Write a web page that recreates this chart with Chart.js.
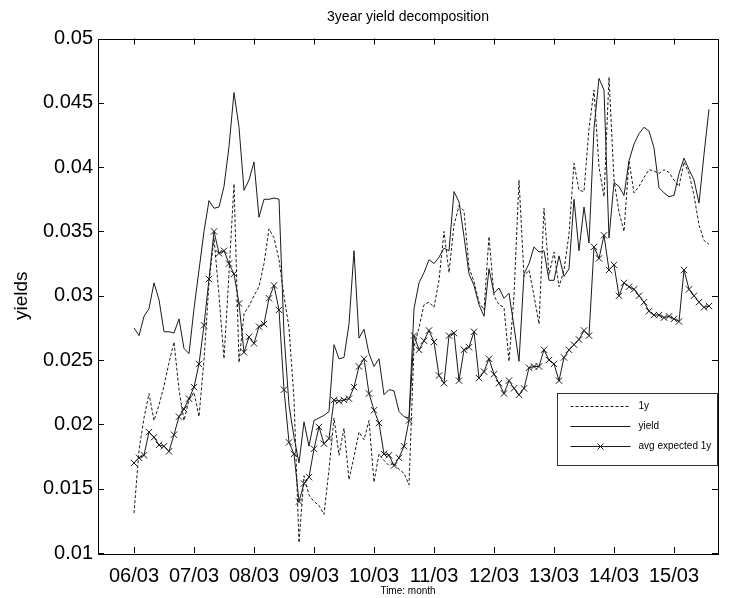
<!DOCTYPE html>
<html>
<head>
<meta charset="utf-8">
<title>3year yield decomposition</title>
<script src="https://cdn.jsdelivr.net/npm/chart.js@4.4.1/dist/chart.umd.min.js"></script>
<style>
  html, body { margin: 0; padding: 0; background: #fff; }
  #wrap { width: 742px; height: 598px; }
</style>
</head>
<body>
<div id="wrap"><canvas id="yieldChart" width="742" height="598"></canvas></div>
<script>
// months since 06/03 (monthly data, 06/03 .. 15/10)
const startYear = 6, startMonth = 3, monthCount = 116;
const months = [];
for (let i = 0; i < monthCount; i++) {
    const m = startMonth - 1 + i;
    const yy = startYear + Math.floor(m / 12);
    const mm = (m % 12) + 1;
    months.push(String(yy).padStart(2, '0') + '/' + String(mm).padStart(2, '0'));
}

// x axis tick labels (every March)
const tickLabels = ['06/03', '07/03', '08/03', '09/03', '10/03', '11/03', '12/03', '13/03', '14/03', '15/03'];

const oneYear = [
    0.0131, 0.0180, 0.0205, 0.0224, 0.0203, 0.0215, 0.0230, 0.0248, 0.0264, 0.0227,
    0.0203, 0.0219, 0.0225, 0.0206, 0.0250, 0.0310, 0.0345, 0.0300, 0.0251, 0.0317,
    0.0387, 0.0248, 0.0286, 0.0292, 0.0300, 0.0307, 0.0325, 0.0352, 0.0345, 0.0328,
    0.0300, 0.0275, 0.0220, 0.0108, 0.0160, 0.0145, 0.0140, 0.0137, 0.0130, 0.0165,
    0.0205, 0.0176, 0.0197, 0.0157, 0.0175, 0.0194, 0.0188, 0.0203, 0.0155, 0.0177,
    0.0172, 0.0168, 0.0170, 0.0165, 0.0162, 0.0153, 0.0260, 0.0275, 0.0293, 0.0295,
    0.0291, 0.0312, 0.0350, 0.0318, 0.0355, 0.0370, 0.0366, 0.0322, 0.0311, 0.0295,
    0.0289, 0.0346, 0.0300, 0.0293, 0.0291, 0.0249, 0.0300, 0.0390, 0.0315, 0.0320,
    0.0300, 0.0278, 0.0368, 0.0316, 0.0334, 0.0307, 0.0320, 0.0348, 0.0403, 0.0382,
    0.0381, 0.0430, 0.0460, 0.0400, 0.0377, 0.0470, 0.0390, 0.0365, 0.0350, 0.0405,
    0.0380, 0.0385, 0.0392, 0.0398, 0.0397, 0.0395, 0.0398, 0.0396, 0.0390, 0.0385,
    0.0404, 0.0395, 0.0378, 0.0355, 0.0343, 0.0340
];

const yieldVals = [
    0.0275, 0.0269, 0.0284, 0.0290, 0.0310, 0.0297, 0.0272, 0.0272, 0.0271, 0.0282,
    0.0259, 0.0255, 0.0290, 0.0320, 0.0350, 0.0374, 0.0368, 0.0369, 0.0385, 0.0416,
    0.0458, 0.0431, 0.0382, 0.0390, 0.0404, 0.0361, 0.0375, 0.0375, 0.0376, 0.0375,
    0.0270, 0.0215, 0.0190, 0.0170, 0.0202, 0.0183, 0.0203, 0.0205, 0.0207, 0.0210,
    0.0262, 0.0251, 0.0252, 0.0278, 0.0335, 0.0267, 0.0274, 0.0255, 0.0245, 0.0251,
    0.0223, 0.0227, 0.0226, 0.0210, 0.0206, 0.0205, 0.0290, 0.0310, 0.0318, 0.0328,
    0.0325, 0.0330, 0.0337, 0.0335, 0.0381, 0.0373, 0.0346, 0.0317, 0.0308, 0.0293,
    0.0284, 0.0321, 0.0302, 0.0306, 0.0298, 0.0302, 0.0276, 0.0249, 0.0317, 0.0325,
    0.0338, 0.0334, 0.0335, 0.0312, 0.0312, 0.0331, 0.0315, 0.0321, 0.0375, 0.0335,
    0.0369, 0.0341, 0.0430, 0.0469, 0.0460, 0.0345, 0.0388, 0.0385, 0.0378, 0.0405,
    0.0418, 0.0426, 0.0431, 0.0428, 0.0415, 0.0384, 0.0380, 0.0377, 0.0378, 0.0395,
    0.0407, 0.0398, 0.0390, 0.0372, 0.0410, 0.0445
];

const avgExpected = [
    0.0170, 0.0174, 0.0176, 0.0194, 0.0190, 0.0184, 0.0183, 0.0179, 0.0192, 0.0206,
    0.0212, 0.0220, 0.0229, 0.0247, 0.0277, 0.0313, 0.0350, 0.0333, 0.0335, 0.0325,
    0.0317, 0.0294, 0.0256, 0.0268, 0.0263, 0.0276, 0.0278, 0.0298, 0.0308, 0.0289,
    0.0227, 0.0186, 0.0177, 0.0140, 0.0154, 0.0159, 0.0181, 0.0198, 0.0185, 0.0189,
    0.0219, 0.0218, 0.0219, 0.0220, 0.0229, 0.0245, 0.0251, 0.0224, 0.0211, 0.0201,
    0.0177, 0.0176, 0.0168, 0.0174, 0.0183, 0.0203, 0.0269, 0.0258, 0.0265, 0.0273,
    0.0264, 0.0238, 0.0232, 0.0269, 0.0271, 0.0234, 0.0258, 0.0260, 0.0272, 0.0236,
    0.0241, 0.0251, 0.0239, 0.0232, 0.0224, 0.0234, 0.0228, 0.0223, 0.0228, 0.0244,
    0.0245, 0.0245, 0.0258, 0.0250, 0.0247, 0.0234, 0.0252, 0.0258, 0.0262, 0.0266,
    0.0273, 0.0269, 0.0338, 0.0329, 0.0347, 0.0320, 0.0324, 0.0300, 0.0310, 0.0307,
    0.0305, 0.0300, 0.0295, 0.0288, 0.0285, 0.0285, 0.0283, 0.0284, 0.0282, 0.0280,
    0.0320, 0.0305, 0.0300, 0.0295, 0.0291, 0.0292
];

const FONT = "'Liberation Sans', Arial, Helvetica, sans-serif";
const LINE = '#1a1a1a';

function toPoints(values) {
    return values.map((v, i) => ({ x: i, y: v, month: months[i] }));
}

// MATLAB-like box with inward tick marks and a legend box in the lower right
const matlabFrame = {
    id: 'matlabFrame',
    afterDatasetsDraw(chart) {
        const { ctx, chartArea: a, scales } = chart;
        const tl = 6;
        ctx.save();
        ctx.strokeStyle = '#000';
        ctx.lineWidth = 1;
        ctx.setLineDash([]);
        ctx.beginPath();
        scales.x.ticks.forEach(t => {
            const px = Math.round(scales.x.getPixelForValue(t.value)) + 0.5;
            ctx.moveTo(px, a.bottom); ctx.lineTo(px, a.bottom - tl);
            ctx.moveTo(px, a.top); ctx.lineTo(px, a.top + tl);
        });
        scales.y.ticks.forEach(t => {
            const py = Math.round(scales.y.getPixelForValue(t.value)) + 0.5;
            ctx.moveTo(a.left, py); ctx.lineTo(a.left + tl, py);
            ctx.moveTo(a.right, py); ctx.lineTo(a.right - tl, py);
        });
        ctx.stroke();
        ctx.strokeRect(Math.round(a.left) + 0.5, Math.round(a.top) + 0.5,
            Math.round(a.right - a.left), Math.round(a.bottom - a.top));

        // legend
        const bx = 557.5, by = 393.5, bw = 160, bh = 72;
        ctx.fillStyle = '#fff';
        ctx.fillRect(bx, by, bw, bh);
        ctx.strokeStyle = '#333';
        ctx.strokeRect(bx, by, bw, bh);
        ctx.font = '10px ' + FONT;
        ctx.textBaseline = 'middle';
        ctx.textAlign = 'left';
        chart.data.datasets.forEach((ds, k) => {
            const ly = by + 13 + k * 20;
            ctx.strokeStyle = LINE;
            ctx.setLineDash(ds.borderDash || []);
            ctx.beginPath();
            ctx.moveTo(bx + 13, ly); ctx.lineTo(bx + 73, ly);
            ctx.stroke();
            ctx.setLineDash([]);
            if (ds.pointRadius > 0) {
                const c = bx + 43, r = 3;
                ctx.beginPath();
                ctx.moveTo(c - r, ly - r); ctx.lineTo(c + r, ly + r);
                ctx.moveTo(c - r, ly + r); ctx.lineTo(c + r, ly - r);
                ctx.stroke();
            }
            ctx.fillStyle = '#000';
            ctx.fillText(ds.label, bx + 81, ly);
        });
        ctx.restore();
    }
};

new Chart(document.getElementById('yieldChart'), {
    type: 'line',
    data: {
        datasets: [
            {
                label: '1y',
                data: toPoints(oneYear),
                borderColor: LINE,
                borderWidth: 1,
                borderDash: [3, 2],
                pointRadius: 0
            },
            {
                label: 'yield',
                data: toPoints(yieldVals),
                borderColor: LINE,
                borderWidth: 1,
                pointRadius: 0
            },
            {
                label: 'avg expected 1y',
                data: toPoints(avgExpected),
                borderColor: LINE,
                borderWidth: 1,
                pointStyle: 'crossRot',
                pointRadius: 4.5,
                pointBorderWidth: 1,
                pointBorderColor: LINE
            }
        ]
    },
    options: {
        responsive: false,
        animation: false,
        devicePixelRatio: 1,
        layout: { padding: { top: 0, right: 24, bottom: 0, left: 0 } },
        elements: { line: { tension: 0 } },
        plugins: {
            legend: { display: false },
            tooltip: { enabled: false },
            title: {
                display: true,
                text: '3year yield decomposition',
                fullSize: false,
                color: '#000',
                font: { family: FONT, size: 14, weight: 'normal' },
                padding: { top: 9, bottom: 12.7 }
            }
        },
        scales: {
            x: {
                type: 'linear',
                min: -7.2,
                max: 116.8,
                grid: { display: false, drawTicks: false },
                border: { display: false },
                afterBuildTicks(scale) {
                    scale.ticks = tickLabels.map((_, k) => ({ value: k * 12 }));
                },
                afterFit(scale) { scale.height = 45; },
                ticks: {
                    color: '#000',
                    padding: 11,
                    maxRotation: 0,
                    autoSkip: false,
                    font: { family: FONT, size: 20 },
                    callback: value => tickLabels[value / 12] || ''
                },
                title: {
                    display: true,
                    text: 'Time: month',
                    color: '#000',
                    font: { family: FONT, size: 10 },
                    padding: { top: 0, bottom: 1 }
                }
            },
            y: {
                min: 0.01,
                max: 0.05,
                grid: { display: false, drawTicks: false },
                border: { display: false },
                afterFit(scale) { scale.width = 98; },
                ticks: {
                    stepSize: 0.005,
                    color: '#000',
                    padding: 5,
                    font: { family: FONT, size: 20 },
                    callback: value => String(+value.toFixed(3))
                },
                title: {
                    display: true,
                    text: 'yields',
                    color: '#000',
                    font: { family: FONT, size: 19 },
                    padding: { top: 10, bottom: 0 }
                }
            }
        }
    },
    plugins: [matlabFrame]
});
</script>
</body>
</html>
